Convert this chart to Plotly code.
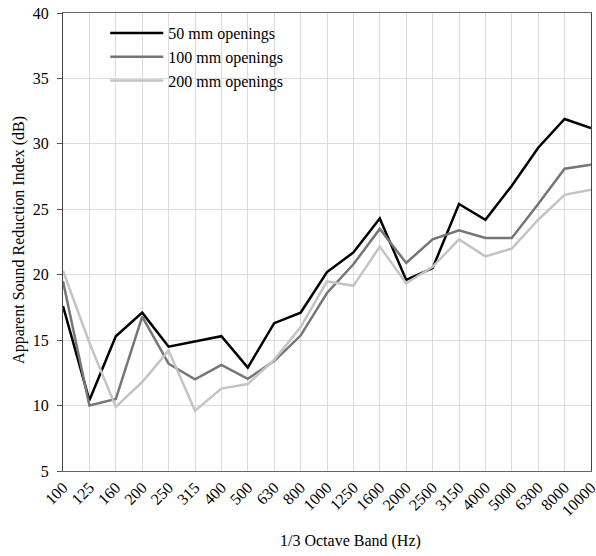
import plotly.graph_objects as go

bands = ["100", "125", "160", "200", "250", "315", "400", "500", "630", "800", "1000",
         "1250", "1600", "2000", "2500", "3150", "4000", "5000", "6300", "8000", "10000"]

open_50 = [17.6, 10.4, 15.3, 17.1, 14.5, 14.9, 15.3, 12.9, 16.3, 17.1, 20.2,
           21.7, 24.3, 19.6, 20.5, 25.4, 24.2, 26.8, 29.7, 31.9, 31.2]
open_100 = [19.5, 10.0, 10.5, 16.8, 13.2, 12.0, 13.1, 12.05, 13.4, 15.35, 18.6,
            20.8, 23.5, 20.9, 22.7, 23.4, 22.8, 22.8, 25.4, 28.1, 28.4]
open_200 = [20.3, 14.8, 9.9, 11.8, 14.2, 9.6, 11.3, 11.65, 13.5, 16.0, 19.5,
            19.15, 22.15, 19.35, 20.6, 22.7, 21.4, 22.0, 24.2, 26.1, 26.5]

series = [
    ("50 mm openings", open_50, "#000000"),
    ("100 mm openings", open_100, "#767676"),
    ("200 mm openings", open_200, "#c4c4c4"),
]

fig = go.Figure()
for name, vals, col in series:
    fig.add_trace(go.Scatter(x=bands, y=vals, mode="lines", name=name,
                             line=dict(color=col, width=2.5)))

font_family = "Liberation Serif"
fig.update_layout(
    width=596, height=556,
    margin=dict(l=63, r=5, t=13, b=85),
    paper_bgcolor="white", plot_bgcolor="white",
    font=dict(family=font_family, size=16, color="black"),
    showlegend=True,
    legend=dict(x=0.08, y=0.9935, xanchor="left", yanchor="top",
                bgcolor="rgba(0,0,0,0)", font=dict(size=16, family=font_family),
                tracegroupgap=0, itemwidth=53),
    xaxis=dict(type="category", range=[0, 20], tickangle=-45, automargin=False,
               showgrid=True, gridcolor="#dcdcdc", gridwidth=1,
               showline=True, linecolor="#666666", mirror=True,
               ticks="", tickfont=dict(size=16, family=font_family)),
    yaxis=dict(range=[5, 40], dtick=5, tick0=5, automargin=False,
               showgrid=True, gridcolor="#dcdcdc", gridwidth=1,
               showline=True, linecolor="#444444", mirror=True,
               ticks="outside", ticklen=5, tickcolor="#555555",
               ticklabelstandoff=5,
               tickfont=dict(size=16, family=font_family)),
    annotations=[
        dict(text="1/3 Octave Band (Hz)", xref="paper", yref="paper",
             x=0.545, y=-0.153, xanchor="center", yanchor="middle",
             showarrow=False, font=dict(size=16, family=font_family)),
        dict(text="Apparent Sound Reduction Index (dB)", xref="paper", yref="paper",
             x=-0.083, y=0.505, xanchor="center", yanchor="middle", textangle=-90,
             showarrow=False, font=dict(size=16, family=font_family)),
    ],
)

fig.write_html("out.html", config={"displayModeBar": False},
               post_script="document.body.style.margin='0px';")
